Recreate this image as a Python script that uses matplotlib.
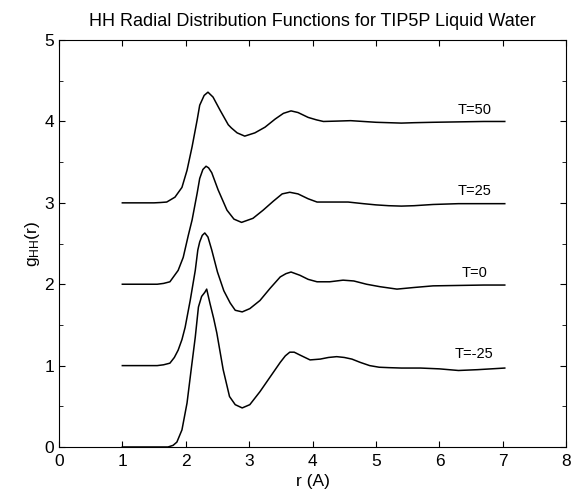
import matplotlib
matplotlib.use('Agg')
import matplotlib.pyplot as plt
from matplotlib.ticker import MultipleLocator

plt.rcParams['font.family'] = ['Liberation Sans', 'DejaVu Sans']
plt.rcParams['mathtext.default'] = 'regular'

# g_HH(r); each curve is shifted up by its offset when drawn
r_m25 = [1.0, 1.65, 1.72, 1.8, 1.86, 1.94, 2.02, 2.09, 2.15, 2.2, 2.25, 2.3, 2.33, 2.38,
         2.44, 2.49, 2.59, 2.69, 2.78, 2.89, 3.01, 3.17, 3.33, 3.49, 3.57, 3.64, 3.71,
         3.8, 3.96, 4.12, 4.25, 4.38, 4.5, 4.62, 4.75, 4.9, 5.05, 5.2, 5.4, 5.7, 6.0,
         6.3, 6.6, 7.03]
g_m25 = [0, 0, 0, 0.02, 0.06, 0.21, 0.54, 0.98, 1.35, 1.72, 1.85, 1.9, 1.94, 1.77,
         1.58, 1.40, 0.95, 0.62, 0.52, 0.48, 0.52, 0.68, 0.86, 1.04, 1.12, 1.165, 1.165,
         1.13, 1.07, 1.08, 1.1, 1.11, 1.1, 1.08, 1.04, 1.0, 0.98, 0.975, 0.97, 0.97,
         0.96, 0.94, 0.95, 0.97]

r_0 = [1.0, 1.55, 1.65, 1.75, 1.82, 1.88, 1.94, 1.99, 2.07, 2.15, 2.19, 2.22, 2.26,
       2.3, 2.35, 2.41, 2.5, 2.6, 2.7, 2.78, 2.89, 3.01, 3.17, 3.33, 3.49, 3.58, 3.66,
       3.8, 3.93, 4.07, 4.27, 4.48, 4.65, 4.85, 5.06, 5.33, 5.6, 5.9, 6.3, 6.7, 7.03]
g_0 = [0, 0, 0.01, 0.03, 0.1, 0.19, 0.32, 0.47, 0.8, 1.17, 1.42, 1.52, 1.6, 1.63,
       1.58, 1.42, 1.15, 0.92, 0.77, 0.68, 0.66, 0.70, 0.80, 0.95, 1.09, 1.13, 1.15,
       1.11, 1.06, 1.03, 1.03, 1.05, 1.04, 1.0, 0.97, 0.94, 0.96, 0.98, 0.985, 0.99, 0.99]

r_25 = [1.0, 1.55, 1.65, 1.75, 1.88, 1.96, 2.04, 2.1, 2.18, 2.22, 2.27, 2.32, 2.36,
        2.41, 2.51, 2.65, 2.76, 2.88, 3.06, 3.22, 3.38, 3.52, 3.64, 3.77, 3.93, 4.07,
        4.27, 4.56, 4.8, 5.0, 5.2, 5.4, 5.6, 5.9, 6.3, 6.7, 7.03]
g_25 = [0, 0, 0.01, 0.03, 0.17, 0.33, 0.6, 0.79, 1.12, 1.30, 1.41, 1.45, 1.43, 1.37,
        1.16, 0.91, 0.80, 0.76, 0.81, 0.91, 1.02, 1.11, 1.13, 1.11, 1.05, 1.01, 1.01,
        1.01, 0.99, 0.975, 0.965, 0.96, 0.965, 0.98, 0.99, 0.99, 0.99]

r_50 = [1.0, 1.5, 1.6, 1.7, 1.83, 1.94, 2.02, 2.1, 2.18, 2.22, 2.29, 2.35, 2.43, 2.54,
        2.67, 2.72, 2.81, 2.93, 3.09, 3.25, 3.41, 3.54, 3.66, 3.77, 3.93, 4.06, 4.17,
        4.4, 4.6, 4.8, 5.0, 5.2, 5.4, 5.6, 5.9, 6.3, 6.7, 7.03]
g_50 = [0, 0, 0.004, 0.01, 0.07, 0.19, 0.4, 0.69, 1.02, 1.2, 1.32, 1.36, 1.30, 1.14,
        0.96, 0.92, 0.86, 0.82, 0.86, 0.93, 1.03, 1.10, 1.13, 1.11, 1.05, 1.02, 1.0,
        1.005, 1.01, 1.0, 0.99, 0.985, 0.98, 0.985, 0.99, 0.995, 1.0, 1.0]

labels = ['T=-25', 'T=0', 'T=25', 'T=50']
offsets = [0, 1, 2, 3]

fig, ax = plt.subplots(figsize=(5.72, 4.95), dpi=100)
fig.subplots_adjust(left=0.103, right=0.99, bottom=0.097, top=0.919)

curves = [(r_m25, g_m25), (r_0, g_0), (r_25, g_25), (r_50, g_50)]
for (r, g), off, lab in zip(curves, offsets, labels):
    ax.plot(r, [v + off for v in g], color='black', lw=1.1)
    ax.text(6.55, off + 1.14, lab, fontsize=10.5, ha='center', va='center')

ax.set_xlim(0, 8)
ax.set_ylim(0, 5)
ax.xaxis.set_major_locator(MultipleLocator(1))
ax.yaxis.set_major_locator(MultipleLocator(1))
ax.yaxis.set_minor_locator(MultipleLocator(0.5))
ax.tick_params(which='both', direction='in', top=True, right=True, labelsize=12.5)
ax.tick_params(which='major', length=4)
ax.tick_params(which='minor', length=3)
ax.tick_params(axis='x', pad=5)

ax.set_xlabel('r (A)', fontsize=12.5, labelpad=4)
ax.set_ylabel('g$_{HH}$(r)', fontsize=12.5, labelpad=2)
ax.set_title('HH Radial Distribution Functions for TIP5P Liquid Water', fontsize=13, pad=10)

plt.savefig('out.png')
